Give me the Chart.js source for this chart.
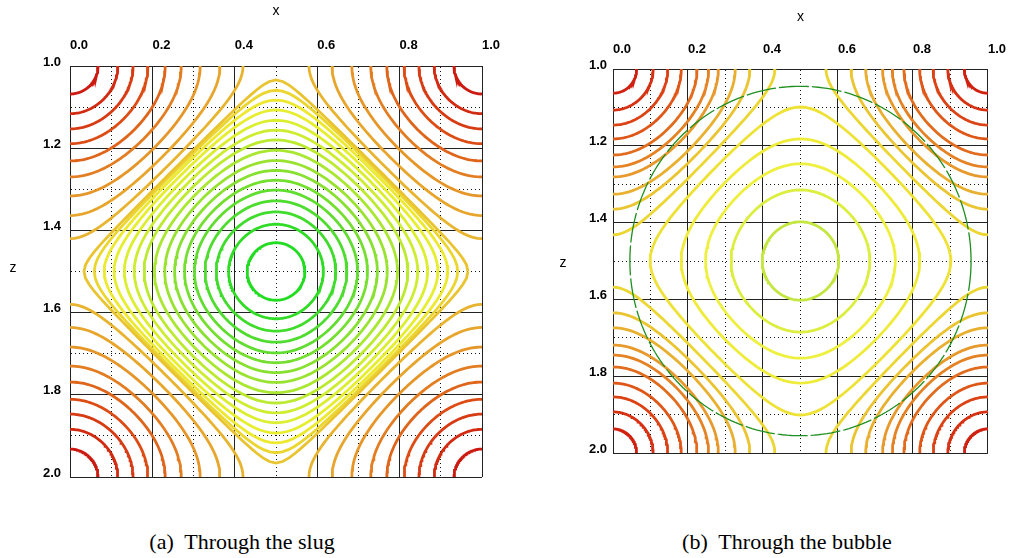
<!DOCTYPE html>
<html>
<head>
<meta charset="utf-8">
<script src="https://cdn.jsdelivr.net/npm/chart.js@4"></script>
<style>
  body { margin: 0; background: #fff; width: 1018px; height: 558px; position: relative; overflow: hidden; }
  canvas { position: absolute; top: 0; }
  .caption { position: absolute; top: 529px; width: 320px; text-align: center;
             font-family: "Liberation Serif", "Times New Roman", serif; font-size: 22px; color: #000; white-space: pre; }
</style>
</head>
<body>
<canvas id="slug" width="520" height="500" style="left:0"></canvas>
<canvas id="bubble" width="478" height="500" style="left:540px"></canvas>
<div class="caption" style="left:82px">(a)  Through the slug</div>
<div class="caption" style="left:627px">(b)  Through the bubble</div>
<script>
// labelled ticks (grid every 0.1, labels every 0.2)
const xTicks = [0.0, 0.2, 0.4, 0.6, 0.8, 1.0];
const zTicks = [1.0, 1.2, 1.4, 1.6, 1.8, 2.0];

// slug: half-width of each closed contour, read along z = 1.5
const slugRings = [0.070, 0.115, 0.145, 0.172, 0.198, 0.222, 0.246, 0.270,
                   0.295, 0.320, 0.344, 0.368, 0.393, 0.417, 0.441, 0.466];
// slug: where each corner contour meets the edge, distance from the corner
const slugCorners = [0.068, 0.116, 0.153, 0.189, 0.231, 0.270, 0.316, 0.364, 0.420];
const slugCentre = [0.5, 1.5];

// bubble
const bubbleRings = [0.102, 0.185, 0.253, 0.318, 0.401];
const bubbleCorners = [0.063, 0.107, 0.146, 0.182, 0.224, 0.255, 0.281, 0.326, 0.365, 0.432];
const bubbleCentre = [0.5, 1.5];
const bubbleRadius = 0.455;

const TWO_PI = 2 * Math.PI;
const field = (u, v) => Math.cos(TWO_PI * u) + Math.cos(TWO_PI * v);

// closed contour through (r, 0), traced by bisection along rays from the centre
function ringPoints(centre, r) {
  const level = field(r, 0);
  const pts = [];
  for (let i = 0; i <= 180; i++) {
    const a = (i / 180) * TWO_PI;
    const cu = Math.cos(a), cv = Math.sin(a);
    let lo = 0, hi = 0.5 / Math.max(Math.abs(cu), Math.abs(cv));
    for (let k = 0; k < 40; k++) {
      const mid = (lo + hi) / 2;
      if (field(mid * cu, mid * cv) > level) lo = mid; else hi = mid;
    }
    pts.push({ x: centre[0] + lo * cu, y: centre[1] + lo * cv });
  }
  return pts;
}

// corner contour meeting the edges at distance d from corner (su, sv)
function cornerPoints(centre, d, su, sv) {
  const level = field(0.5 - d, 0.5);
  const pts = [];
  for (let i = 0; i <= 60; i++) {
    const p = (i / 60) * Math.PI / 2;
    const du = Math.cos(p), dv = Math.sin(p);
    let lo = 0, hi = 0.5 / Math.max(du, dv);
    for (let k = 0; k < 40; k++) {
      const mid = (lo + hi) / 2;
      if (field(0.5 - mid * du, 0.5 - mid * dv) < level) lo = mid; else hi = mid;
    }
    pts.push({ x: centre[0] + su * (0.5 - lo * du), y: centre[1] + sv * (0.5 - lo * dv) });
  }
  return pts;
}

function circlePoints(centre, r) {
  const pts = [];
  for (let i = 0; i <= 240; i++) {
    const a = (i / 240) * TWO_PI;
    pts.push({ x: centre[0] + r * Math.cos(a), y: centre[1] + r * Math.sin(a) });
  }
  return pts;
}

const hex = (h) => [1, 3, 5].map((i) => parseInt(h.slice(i, i + 2), 16));
function colourAt(stops, s) {
  for (let i = 1; i < stops.length; i++) {
    if (s <= stops[i][0]) {
      const [s0, c0] = stops[i - 1], [s1, c1] = stops[i];
      const t = (s - s0) / (s1 - s0);
      const a = hex(c0), b = hex(c1);
      return `rgb(${a.map((v, j) => Math.round(v + (b[j] - v) * t)).join(",")})`;
    }
  }
  return stops[stops.length - 1][1];
}

const slugStops = [[0, "#cc1a10"], [0.125, "#dc4c14"], [0.25, "#e69628"], [0.333, "#e8b430"],
                   [0.4, "#eace30"], [0.47, "#eeee30"], [0.56, "#d8ee30"], [0.65, "#b0e830"],
                   [0.75, "#88e030"], [0.87, "#50dc30"], [1, "#22dc22"]];
const bubbleStops = [[0, "#d02010"], [0.15, "#dc4414"], [0.3, "#e2701e"], [0.45, "#e8a02e"],
                     [0.62, "#ecd232"], [0.75, "#eee836"], [0.86, "#eef040"], [0.93, "#dcee40"], [1, "#c4e640"]];

function contourSets(centre, corners, rings, stops) {
  const n = corners.length + rings.length;
  const sets = [];
  const line = (data, rank) => ({
    data, showLine: true, pointRadius: 0, borderWidth: 2.8, tension: 0,
    borderColor: colourAt(stops, rank / (n - 1)),
  });
  corners.forEach((d, i) => {
    [[-1, -1], [1, -1], [-1, 1], [1, 1]].forEach(([su, sv]) =>
      sets.push(line(cornerPoints(centre, d, su, sv), i)));
  });
  rings.slice().reverse().forEach((r, i) =>
    sets.push(line(ringPoints(centre, r), corners.length + i)));
  return sets;
}

const isMajor = (v) => Math.abs(v * 5 - Math.round(v * 5)) < 1e-6;
const inList = (list) => (v) => (list.some((t) => Math.abs(t - v) < 1e-6) ? v.toFixed(1) : "");

const uprightTitle = {
  id: "uprightTitle",
  afterDraw(chart, args, opts) {
    const { ctx, chartArea } = chart;
    ctx.save();
    ctx.font = '14px "Liberation Sans", Arial, sans-serif';
    ctx.fillStyle = "#000";
    ctx.textAlign = "center";
    ctx.textBaseline = "middle";
    ctx.fillText(opts.text, chartArea.left + opts.dx, (chartArea.top + chartArea.bottom) / 2 + opts.dy);
    ctx.restore();
  },
};

function makeChart(id, datasets, g) {
  const gridColor = (c) => (c.tick && !isMajor(c.tick.value) ? "#111" : "#222");
  const gridDash = (c) => (c.tick && !isMajor(c.tick.value) ? [1, 3] : []);
  const tickFont = { family: '"Liberation Sans", Arial, sans-serif', size: 13, weight: "bold" };
  return new Chart(document.getElementById(id), {
    type: "scatter",
    data: { datasets },
    plugins: [uprightTitle],
    options: {
      responsive: false,
      animation: false,
      layout: { padding: g.padding },
      plugins: {
        legend: { display: false },
        tooltip: { enabled: false },
        uprightTitle: { text: "z", dx: g.zdx, dy: g.zdy },
      },
      scales: {
        x: {
          type: "linear", position: "top", min: 0, max: 1,
          afterFit: (s) => { s.height = g.top; },
          ticks: { stepSize: 0.1, autoSkip: false, maxRotation: 0, align: "start",
                   padding: g.xPad, color: "#000", font: tickFont, callback: inList(xTicks) },
          grid: { color: gridColor, lineWidth: 1, drawTicks: false },
          border: { color: "#222", width: 1, dash: gridDash },
          title: { display: true, text: "x", color: "#000",
                   font: { family: '"Liberation Sans", Arial, sans-serif', size: 14 },
                   padding: { top: g.xTitle, bottom: 0 } },
        },
        y: {
          type: "linear", position: "left", reverse: true, min: 1, max: 2,
          afterFit: (s) => { s.width = g.left; },
          ticks: { stepSize: 0.1, autoSkip: false, padding: g.yPad, labelOffset: -4,
                   color: "#000", font: tickFont, callback: inList(zTicks) },
          grid: { color: gridColor, lineWidth: 1, drawTicks: false },
          border: { color: "#222", width: 1, dash: gridDash },
        },
      },
    },
  });
}

makeChart("slug", contourSets(slugCentre, slugCorners, slugRings, slugStops), {
  padding: { left: 0, top: 0, right: 38, bottom: 23 },
  top: 66, left: 70, xPad: 13, yPad: 9, xTitle: 3, zdx: -57, zdy: -3,
});

const bubbleSets = [{
  data: circlePoints(bubbleCentre, bubbleRadius), showLine: true, pointRadius: 0,
  borderWidth: 1.3, borderColor: "#1f8f1f", borderDash: [30, 3],
}].concat(contourSets(bubbleCentre, bubbleCorners, bubbleRings, bubbleStops));

makeChart("bubble", bubbleSets, {
  padding: { left: 0, top: 0, right: 21, bottom: 47 },
  top: 69, left: 73, xPad: 12, yPad: 6, xTitle: 9, zdx: -50, zdy: 2,
});
</script>
</body>
</html>
